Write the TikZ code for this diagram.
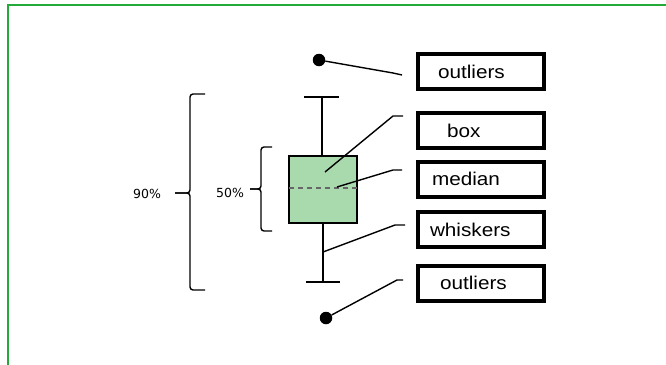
\documentclass[tikz,border=0pt]{standalone}
\usepackage{fontspec}
\newfontfamily\lblfont[FakeStretch=1.12]{Liberation Sans}
\newfontfamily\pctfont{DejaVu Sans}
\usetikzlibrary{positioning}
\definecolor{framegreen}{RGB}{36,170,56}
\definecolor{boxgreen}{RGB}{168,218,174}

\begin{document}
\begin{tikzpicture}[x=1pt, y=-1pt,
    lbl/.style = {draw, line width=4pt, minimum width=126pt, minimum height=35pt,
                  text width=120pt, inner xsep=3pt, align=left,
                  font=\lblfont\fontsize{18.5}{20}\selectfont},
    pct/.style = {inner sep=0pt, font=\pctfont\fontsize{12.5}{14}\selectfont},
    pointer/.style = {line width=1.4pt},
    outlier/.style = {circle, fill, inner sep=0pt, minimum size=12.5pt},
    bracket/.style = {line width=1.4pt, rounded corners=3pt},
    plotline/.style = {line width=2.2pt}]
    \useasboundingbox (0,0) rectangle (666,364);
    \draw[framegreen, line width=2.8pt] (8,370) |- (670,5);

    % labels on the right
    \node[lbl] (outTop) at (481,71.5) {\hspace*{17pt}outliers};
    \node[lbl] (boxLbl) at (481,130.5) {\hspace*{26pt}box};
    \node[lbl] (medLbl) at (481,179) {\hspace*{11pt}median};
    \node[lbl] (whiskLbl) at (481,229.5) {\hspace*{9pt}whiskers};
    \node[lbl] (outBot) at (481,283) {\hspace*{19pt}outliers};

    % the box plot
    \draw[plotline] (304,97) -- (339,97) (322,97) -- (322,156);
    \draw[plotline] (323,223) -- (323,282) (306,282) -- (340,282);
    \draw[plotline, fill=boxgreen] (289,156) rectangle (357,223);
    \draw[gray!80!black, line width=1.2pt, dash pattern=on 5pt off 4pt] (289,188) -- (357,188);
    \node[outlier] (dotTop) at (319,60) {};
    \node[outlier] (dotBot) at (326,318) {};

    % brackets
    \node[pct] (p90) at (147,194) {90\%};
    \node[pct] (p50) at (230,193) {50\%};
    \draw[bracket] (205,94) -| (190,193) -- (175,193);
    \draw[bracket] (205,290) -| (190,193) -- (175,193);
    \draw[bracket] (272,147) -| (261,189) -- (250,189);
    \draw[bracket] (272,231) -| (261,189) -- (250,189);

    % pointers
    \coordinate (boxIn) at (325,172);
    \coordinate (medIn) at (337,187);
    \coordinate (whiskIn) at (323,252);
    \draw[pointer] (dotTop) -- (393,73) -- ++(9,2);
    \draw[pointer] (boxIn) -- (393,116) -- ++(10,0);
    \draw[pointer] (medIn) -- (393,170) -- ++(9,0);
    \draw[pointer] (whiskIn) -- (395,225) -- ++(10,0);
    \draw[pointer] (dotBot) -- (397,280) -- ++(6,0);
\end{tikzpicture}
\end{document}
